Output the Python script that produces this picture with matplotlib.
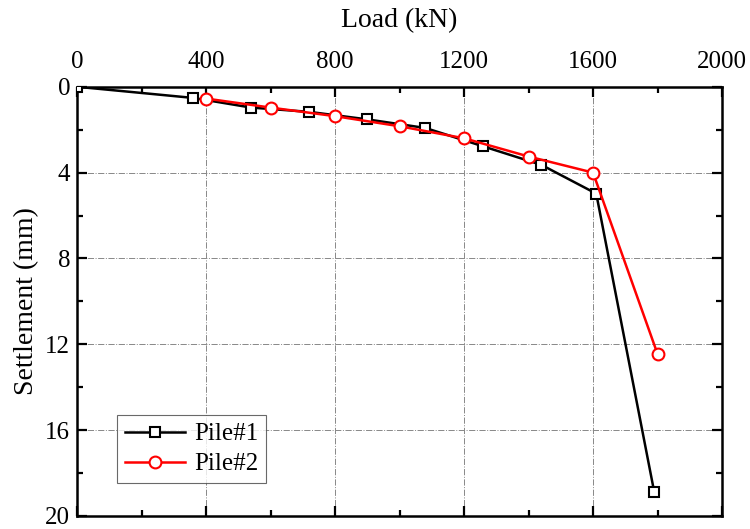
import matplotlib
matplotlib.use('Agg')
import matplotlib.pyplot as plt
from matplotlib.ticker import MultipleLocator

# Pile#1 load-settlement data
pile1Load = [0, 360, 540, 720, 900, 1080, 1260, 1440, 1610, 1790]
pile1Settle = [0, 0.52, 0.97, 1.17, 1.52, 1.92, 2.78, 3.64, 4.98, 18.9]
# Pile#2 load-settlement data
pile2Load = [400, 600, 800, 1000, 1200, 1400, 1600, 1800]
pile2Settle = [0.55, 0.97, 1.37, 1.84, 2.4, 3.25, 4.0, 12.45]

plt.rcParams['font.family'] = ['Liberation Serif', 'DejaVu Serif']

figure = plt.figure(figsize=(7.5, 5.29), dpi=100)
axes = figure.add_axes([0.1027, 0.0246, 0.8600, 0.8114])

axes.plot(pile1Load, pile1Settle, color='black', lw=1.8, marker='s', ms=7.5,
          mfc='white', mec='black', mew=1.5, label='Pile#1', zorder=3)
axes.plot(pile2Load, pile2Settle, color='red', lw=1.8, marker='o', ms=8.5,
          mfc='white', mec='red', mew=1.5, label='Pile#2', zorder=4)

axes.set_xlim(0, 2000)
axes.set_ylim(20, 0)
axes.xaxis.set_major_locator(MultipleLocator(400))
axes.xaxis.set_minor_locator(MultipleLocator(200))
axes.yaxis.set_major_locator(MultipleLocator(4))
axes.yaxis.set_minor_locator(MultipleLocator(2))

axes.xaxis.set_label_position('top')
axes.set_xlabel('Load (kN)', fontsize=20, labelpad=17)
axes.set_ylabel('Settlement (mm)', fontsize=20, labelpad=4)

axes.tick_params(which='both', direction='in', top=True, right=True, bottom=True,
                 labeltop=True, labelbottom=False, labelsize=18, width=1.6)
axes.tick_params(which='major', length=7, pad=10)
axes.tick_params(axis='y', which='major', pad=5)
axes.tick_params(which='minor', length=4)

for spine in axes.spines.values():
    spine.set_linewidth(1.8)

axes.grid(True, which='major', color='#888888', ls='-.', lw=0.7)

legend = axes.legend(loc='lower left', bbox_to_anchor=(0.062, 0.077), borderaxespad=0,
                     fontsize=18, frameon=True, fancybox=False, edgecolor='#444444',
                     handlelength=2.4, borderpad=0.3, labelspacing=0.3, handletextpad=0.4)
legend.get_frame().set_linewidth(0.8)

plt.savefig('out.png', dpi=100)
